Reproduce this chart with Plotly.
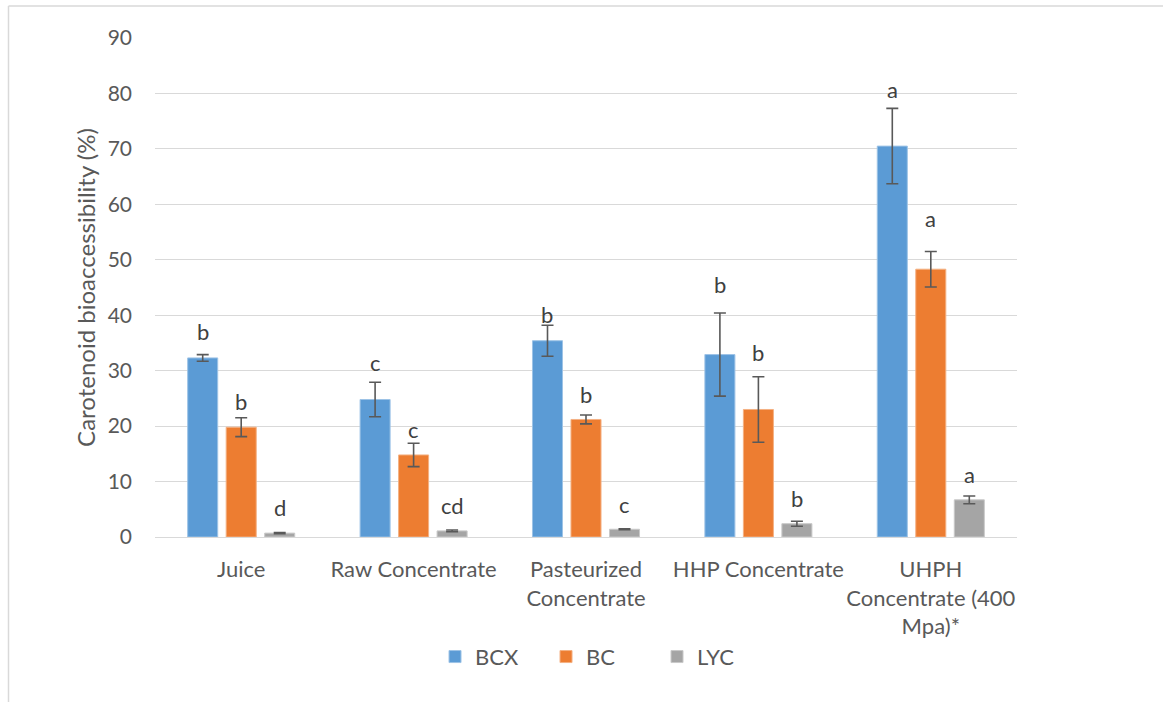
import plotly.graph_objects as go

# Treatments and carotenoid bioaccessibility (%) with standard deviations
categories = [
    "Juice",
    "Raw Concentrate",
    "Pasteurized<br>Concentrate",
    "HHP Concentrate",
    "UHPH<br>Concentrate (400<br>Mpa)*",
]
series_names = ["BCX", "BC", "LYC"]

bcx_values = [32.3, 24.8, 35.4, 32.9, 70.5]
bcx_errors = [0.6, 3.1, 2.8, 7.5, 6.8]
bc_values = [19.8, 14.8, 21.2, 23.0, 48.3]
bc_errors = [1.7, 2.1, 0.8, 5.9, 3.2]
lyc_values = [0.7, 1.1, 1.4, 2.4, 6.7]
lyc_errors = [0.1, 0.15, 0.1, 0.45, 0.7]

# Significance letters and the height at which each is written
bcx_letters = ["b", "c", "b", "b", "a"]
bc_letters = ["b", "c", "b", "b", "a"]
lyc_letters = ["d", "cd", "c", "b", "a"]
bcx_letter_y = [37.0, 31.5, 40.1, 45.5, 80.8]
bc_letter_y = [24.4, 19.3, 25.7, 33.3, 57.4]
lyc_letter_y = [5.3, 5.7, 5.9, 6.9, 11.2]

y_ticks = [0, 10, 20, 30, 40, 50, 60, 70, 80, 90]

colors = ["#5B9BD5", "#ED7D31", "#A5A5A5"]
edge_colors = ["#9DC3E6", "#F4B183", "#C9C9C9"]
text_color = "#595959"
font_family = "Lato, 'Open Sans', sans-serif"

values = [bcx_values, bc_values, lyc_values]
errors = [bcx_errors, bc_errors, lyc_errors]
letters = [bcx_letters, bc_letters, lyc_letters]
letter_y = [bcx_letter_y, bc_letter_y, lyc_letter_y]

fig = go.Figure()
for name, vals, errs, col, edge in zip(series_names, values, errors, colors, edge_colors):
    fig.add_trace(go.Bar(
        name=name,
        x=categories,
        y=vals,
        marker=dict(color=col, line=dict(color=edge, width=1)),
        error_y=dict(type="data", array=errs, visible=True,
                     color="#595959", thickness=1.6, width=6),
    ))

# Width of one category slot in pixels and the step between grouped bars
plot_w = 1163 - 155 - 146
slot_px = plot_w / len(categories)
bargap = 0.33
step_px = slot_px * (1 - bargap) / 3

annotations = []
for s, (labs, ys) in enumerate(zip(letters, letter_y)):
    for cat, lab, yv in zip(categories, labs, ys):
        annotations.append(dict(
            x=cat, y=yv, xref="x", yref="y", text=lab, showarrow=False,
            xshift=(s - 1) * step_px, yanchor="middle",
            font=dict(size=22, color="#404040", family=font_family),
        ))

# Outer chart frame (left and top edges)
x_left = (8.5 - 155) / plot_w
y_top = (537 - 6) / (702 - 38 - 165)
shapes = [
    dict(type="line", xref="paper", yref="paper", x0=x_left, x1=2, y0=y_top, y1=y_top,
         line=dict(color="#D9D9D9", width=1.5)),
    dict(type="line", xref="paper", yref="paper", x0=x_left, x1=x_left, y0=y_top, y1=-2,
         line=dict(color="#D9D9D9", width=1.5)),
]

fig.update_layout(
    width=1163, height=702,
    margin=dict(l=155, r=146, t=38, b=165),
    paper_bgcolor="white", plot_bgcolor="white",
    barmode="group", bargap=bargap, bargroupgap=0.22,
    font=dict(family=font_family, color=text_color, size=21),
    showlegend=True,
    legend=dict(orientation="h", x=0.518, xanchor="center", y=-0.24, yanchor="middle",
                font=dict(size=22, color=text_color), entrywidth=66,
                itemwidth=30, traceorder="normal"),
    annotations=annotations,
    shapes=shapes,
    xaxis=dict(showgrid=False, showline=False, ticks="", ticklabelstandoff=17,
               tickfont=dict(size=22, color=text_color), automargin=False),
    yaxis=dict(range=[0, 90], tickvals=y_ticks, showgrid=True, gridcolor="#D9D9D9",
               gridwidth=1.3, zeroline=True, zerolinecolor="#D9D9D9", zerolinewidth=1.3,
               showline=False, ticks="", ticklabelstandoff=22,
               tickfont=dict(size=21, color=text_color), automargin=False,
               title=dict(text="Carotenoid bioaccessibility (%)", standoff=5,
                          font=dict(size=24, color=text_color))),
)

fig.write_html("out.html")
